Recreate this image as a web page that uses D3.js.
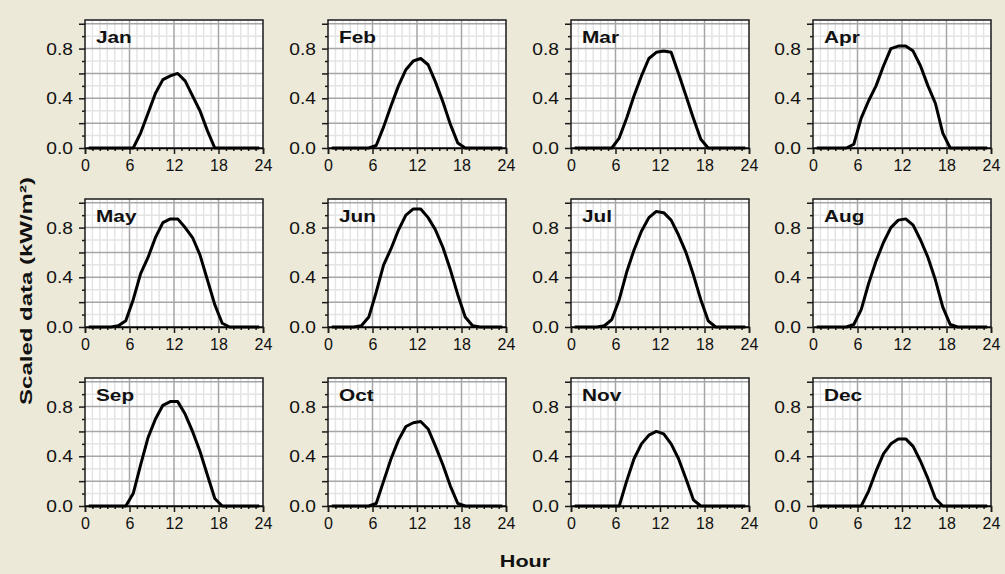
<!DOCTYPE html>
<html>
<head>
<meta charset="utf-8">
<script src="https://cdn.jsdelivr.net/npm/d3@7"></script>
<style>
  body { margin: 0; background: #ECE9D8; }
  svg { display: block; }
</style>
</head>
<body>
<svg id="chart" width="1005" height="574"></svg>
<script>
// hourly profile, one value per hour (plotted at the middle of the hour)
var hours = [0.5, 1.5, 2.5, 3.5, 4.5, 5.5, 6.5, 7.5, 8.5, 9.5, 10.5, 11.5,
             12.5, 13.5, 14.5, 15.5, 16.5, 17.5, 18.5, 19.5, 20.5, 21.5, 22.5, 23.5];

var months = ["Jan", "Feb", "Mar", "Apr", "May", "Jun", "Jul", "Aug", "Sep", "Oct", "Nov", "Dec"];

var jan = [0,0,0,0,0,0, 0,.12,.28,.44,.55,.58,.60,.54,.42,.30,.14, 0,0,0,0,0,0,0];
var feb = [0,0,0,0,0,0, .02,.17,.34,.50,.63,.70,.72,.67,.53,.37,.19,.04, 0,0,0,0,0,0];
var mar = [0,0,0,0,0,0, .08,.24,.42,.58,.72,.77,.78,.77,.60,.42,.24,.07, 0,0,0,0,0,0];
var apr = [0,0,0,0,0, .03,.24,.38,.50,.66,.80,.82,.82,.78,.66,.50,.36,.12, 0,0,0,0,0,0];
var may = [0,0,0,0, .01,.05,.22,.43,.56,.72,.84,.87,.87,.80,.72,.58,.38,.18,.03, 0,0,0,0,0];
var jun = [0,0,0,0, .01,.08,.28,.50,.63,.78,.90,.95,.95,.88,.78,.64,.46,.26,.08,.01, 0,0,0,0];
var jul = [0,0,0,0, .01,.06,.22,.44,.62,.77,.88,.93,.92,.86,.74,.60,.42,.22,.05, 0,0,0,0,0];
var aug = [0,0,0,0,0, .02,.14,.35,.53,.68,.80,.86,.87,.82,.70,.56,.38,.16,.02, 0,0,0,0,0];
var sep = [0,0,0,0,0,0, .10,.33,.55,.70,.81,.84,.84,.74,.60,.44,.25,.06, 0,0,0,0,0,0];
var oct = [0,0,0,0,0,0, .02,.20,.38,.53,.64,.67,.68,.62,.48,.33,.16,.02, 0,0,0,0,0,0];
var nov = [0,0,0,0,0,0, 0,.20,.38,.50,.57,.60,.58,.50,.38,.22,.05, 0,0,0,0,0,0,0];
var dec = [0,0,0,0,0,0, 0,.12,.28,.42,.50,.54,.54,.48,.36,.22,.06, 0,0,0,0,0,0,0];

var series = [jan, feb, mar, apr, may, jun, jul, aug, sep, oct, nov, dec];

var xTickLabels = [0, 6, 12, 18, 24];
var yTickLabels = [0, 0.4, 0.8];

var svg = d3.select("#chart")
  .attr("font-family", "Arial, 'Liberation Sans', sans-serif");

svg.append("rect").attr("width", 1005).attr("height", 574).attr("fill", "#ECE9D8");

// panel grid layout
var plotW = 178, plotH = 128;
var colLeft = [85, 328, 571, 813];
var rowZero = [148, 327, 506];

var line = d3.line();

months.forEach(function(m, i) {
  var left = colLeft[i % 4], zero = rowZero[Math.floor(i / 4)];
  var x = d3.scaleLinear().domain([0, 24]).range([left, left + plotW]);
  var y = d3.scaleLinear().domain([0, 1.03]).range([zero, zero - plotH]);

  var g = svg.append("g");

  g.append("rect")
    .attr("x", left).attr("y", zero - plotH)
    .attr("width", plotW).attr("height", plotH)
    .attr("fill", "#fff");

  // minor grid
  var minorX = d3.range(1, 24).filter(h => h % 6 != 0);
  var minorY = [0.1, 0.3, 0.5, 0.7, 0.9];
  g.selectAll(".mx").data(minorX).join("line")
    .attr("x1", d => x(d)).attr("x2", d => x(d))
    .attr("y1", zero).attr("y2", zero - plotH)
    .attr("stroke", "#e4e4e4").attr("stroke-width", 1.5);
  g.selectAll(".my").data(minorY).join("line")
    .attr("x1", left).attr("x2", left + plotW)
    .attr("y1", d => y(d)).attr("y2", d => y(d))
    .attr("stroke", "#e4e4e4").attr("stroke-width", 1.5);

  // major grid
  g.selectAll(".gx").data([6, 12, 18]).join("line")
    .attr("x1", d => x(d)).attr("x2", d => x(d))
    .attr("y1", zero).attr("y2", zero - plotH)
    .attr("stroke", "#a6a6a6").attr("stroke-width", 1.5);
  g.selectAll(".gy").data([0.2, 0.4, 0.6, 0.8, 1.0]).join("line")
    .attr("x1", left).attr("x2", left + plotW)
    .attr("y1", d => y(d)).attr("y2", d => y(d))
    .attr("stroke", "#a6a6a6").attr("stroke-width", 1.5);

  g.append("rect")
    .attr("x", left).attr("y", zero - plotH)
    .attr("width", plotW).attr("height", plotH)
    .attr("fill", "none").attr("stroke", "#1a1a1a").attr("stroke-width", 1.5);

  // y axis: minor, major, labelled
  g.append("g").attr("transform", `translate(${left},0)`)
    .call(d3.axisLeft(y).tickValues([0.1, 0.3, 0.5, 0.7, 0.9]).tickSize(3).tickFormat(""))
    .call(a => a.select(".domain").remove());
  g.append("g").attr("transform", `translate(${left},0)`)
    .call(d3.axisLeft(y).tickValues([0, 0.2, 0.4, 0.6, 0.8, 1.0]).tickSize(6).tickFormat(""))
    .call(a => a.select(".domain").remove());
  var ya = g.append("g").attr("transform", `translate(${left},0)`)
    .call(d3.axisLeft(y).tickValues(yTickLabels).tickSize(0).tickFormat(d3.format(".1f")));
  ya.select(".domain").remove();
  ya.selectAll("text")
    .attr("x", null).attr("dy", null)
    .attr("font-size", 16).attr("fill", "#111")
    .attr("dominant-baseline", "central")
    .attr("transform", "translate(-12,0) scale(1.2,1)");

  // x axis
  g.append("g").attr("transform", `translate(0,${zero})`)
    .call(d3.axisBottom(x).tickValues(minorX).tickSize(3).tickFormat(""))
    .call(a => a.select(".domain").remove());
  var xa = g.append("g").attr("transform", `translate(0,${zero})`)
    .call(d3.axisBottom(x).tickValues(xTickLabels).tickSize(6).tickPadding(6));
  xa.select(".domain").attr("stroke-width", 1.5);
  xa.selectAll("text").attr("font-size", 16).attr("fill", "#111");
  g.selectAll(".tick line").attr("stroke", "#1a1a1a").attr("stroke-width", 1.5);

  g.append("path")
    .datum(hours.map((h, k) => [x(h), y(series[i][k])]))
    .attr("d", line)
    .attr("fill", "none")
    .attr("stroke", "#000")
    .attr("stroke-width", 3)
    .attr("stroke-linejoin", "round");

  g.append("text")
    .attr("transform", `translate(${left + 11},${zero - plotH + 23}) scale(1.3,1)`)
    .attr("font-size", 16).attr("font-weight", "bold").attr("fill", "#111")
    .text(m);
});

svg.append("text")
  .attr("transform", "translate(27,291) rotate(-90) scale(1.5,1)")
  .attr("text-anchor", "middle").attr("dominant-baseline", "central")
  .attr("font-size", 16).attr("font-weight", "bold").attr("fill", "#111")
  .text("Scaled data (kW/m²)");

svg.append("text")
  .attr("transform", "translate(525,567) scale(1.35,1)")
  .attr("text-anchor", "middle")
  .attr("font-size", 16).attr("font-weight", "bold").attr("fill", "#111")
  .text("Hour");
</script>
</body>
</html>
